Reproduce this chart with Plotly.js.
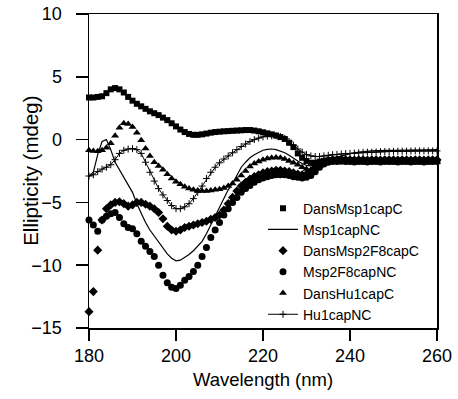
<!DOCTYPE html>
<html>
<head>
<meta charset="utf-8">
<script src="https://cdn.plot.ly/plotly-3.0.1.min.js"></script>
<style>html,body{margin:0;padding:0;background:#fff;}#chart{width:458px;height:399px;}</style>
</head>
<body>
<div id="chart"></div>
<script>
const wavelength = [180,181,182,183,184,185,186,187,188,189,190,191,192,193,194,195,196,197,198,199,200,201,202,203,204,205,206,207,208,209,210,211,212,213,214,215,216,217,218,219,220,221,222,223,224,225,226,227,228,229,230,231,232,233,234,235,236,237,238,239,240,241,242,243,244,245,246,247,248,249,250,251,252,253,254,255,256,257,258,259,260];

const dansMsp1capC = [3.35,3.35,3.4,3.45,3.7,4.0,4.1,4.0,3.75,3.4,3.1,2.85,2.65,2.45,2.25,2.1,1.95,1.75,1.55,1.3,1.05,0.8,0.6,0.45,0.38,0.38,0.42,0.48,0.55,0.6,0.63,0.66,0.68,0.7,0.72,0.74,0.76,0.76,0.72,0.66,0.58,0.5,0.42,0.32,0.2,0.05,-0.25,-0.6,-1.1,-1.45,-1.7,-1.85,-1.85,-1.75,-1.7,-1.65,-1.65,-1.6,-1.6,-1.62,-1.65,-1.65,-1.7,-1.68,-1.65,-1.68,-1.7,-1.7,-1.68,-1.7,-1.72,-1.7,-1.7,-1.72,-1.7,-1.7,-1.72,-1.7,-1.7,-1.72,-1.7];

const msp1capNC = [-2.9,-2.6,-1.2,-0.15,0.0,-0.8,-1.8,-2.4,-2.9,-3.5,-4.2,-5.1,-5.9,-6.6,-7.2,-7.7,-8.2,-8.7,-9.1,-9.45,-9.65,-9.6,-9.4,-9.15,-8.85,-8.5,-8.1,-7.5,-6.8,-6.0,-5.3,-4.6,-4.0,-3.5,-2.8,-2.2,-1.8,-1.45,-1.2,-1.0,-0.85,-0.78,-0.75,-0.8,-0.9,-1.05,-1.25,-1.5,-1.7,-1.9,-2.05,-2.1,-2.05,-1.9,-1.75,-1.6,-1.5,-1.4,-1.3,-1.2,-1.1,-1.05,-1.0,-0.95,-0.92,-0.9,-0.88,-0.85,-0.85,-0.85,-0.85,-0.85,-0.85,-0.85,-0.85,-0.85,-0.85,-0.82,-0.82,-0.8,-0.8];

const dansMsp2F8capC = [-13.7,-12.1,-8.8,-6.4,-5.5,-5.2,-5.0,-4.95,-5.1,-5.3,-5.2,-5.0,-5.0,-5.15,-5.3,-5.5,-5.8,-6.3,-6.9,-7.2,-7.3,-7.2,-7.0,-6.9,-6.8,-6.7,-6.6,-6.5,-6.35,-6.2,-6.0,-5.6,-5.1,-4.6,-4.1,-3.7,-3.4,-3.15,-2.95,-2.8,-2.65,-2.55,-2.5,-2.45,-2.45,-2.5,-2.55,-2.65,-2.75,-2.8,-2.75,-2.55,-2.25,-1.95,-1.75,-1.65,-1.6,-1.6,-1.58,-1.6,-1.6,-1.62,-1.6,-1.6,-1.62,-1.6,-1.6,-1.62,-1.6,-1.6,-1.6,-1.62,-1.6,-1.6,-1.62,-1.6,-1.6,-1.62,-1.6,-1.6,-1.6];

const msp2F8capNC = [-6.4,-6.8,-7.3,-6.4,-6.1,-5.9,-5.8,-6.2,-6.7,-7.0,-7.1,-7.5,-8.1,-8.5,-8.9,-9.3,-10.0,-10.8,-11.4,-11.75,-11.85,-11.6,-11.2,-10.9,-10.5,-10.0,-9.3,-8.6,-7.8,-7.2,-6.6,-6.0,-5.5,-5.0,-4.6,-4.2,-3.9,-3.65,-3.4,-3.2,-3.05,-2.95,-2.85,-2.8,-2.8,-2.8,-2.85,-2.95,-3.0,-3.05,-3.0,-2.85,-2.55,-2.2,-1.95,-1.8,-1.75,-1.75,-1.72,-1.75,-1.75,-1.78,-1.75,-1.75,-1.78,-1.75,-1.75,-1.78,-1.75,-1.75,-1.75,-1.78,-1.75,-1.75,-1.78,-1.75,-1.75,-1.78,-1.75,-1.75,-1.75];

const dansHu1capC = [-0.85,-0.9,-0.93,-0.85,-0.65,-0.3,0.3,0.95,1.3,1.25,1.0,0.55,-0.05,-0.7,-1.3,-1.8,-2.1,-2.4,-2.75,-3.1,-3.35,-3.55,-3.75,-3.9,-4.0,-4.05,-4.1,-4.1,-4.05,-4.0,-3.95,-3.85,-3.7,-3.5,-3.2,-2.85,-2.5,-2.15,-1.9,-1.75,-1.6,-1.5,-1.45,-1.42,-1.45,-1.55,-1.7,-1.85,-2.0,-2.2,-2.35,-2.4,-2.3,-2.1,-1.9,-1.8,-1.75,-1.78,-1.8,-1.8,-1.82,-1.8,-1.8,-1.82,-1.8,-1.8,-1.82,-1.8,-1.8,-1.82,-1.8,-1.8,-1.82,-1.8,-1.8,-1.82,-1.8,-1.8,-1.82,-1.8,-1.8];

const hu1capNC = [-2.9,-2.8,-2.55,-2.35,-2.2,-2.0,-1.6,-1.1,-0.85,-0.75,-0.72,-0.8,-1.1,-1.8,-2.6,-3.3,-3.9,-4.4,-4.85,-5.25,-5.5,-5.5,-5.35,-5.1,-4.7,-4.2,-3.7,-3.1,-2.6,-2.2,-1.85,-1.55,-1.3,-1.05,-0.8,-0.55,-0.35,-0.15,0.0,0.12,0.22,0.28,0.3,0.3,0.25,0.1,-0.15,-0.45,-0.75,-1.0,-1.2,-1.3,-1.35,-1.35,-1.3,-1.25,-1.2,-1.18,-1.15,-1.12,-1.1,-1.08,-1.05,-1.02,-1.0,-1.0,-0.98,-0.96,-0.95,-0.95,-0.94,-0.93,-0.92,-0.92,-0.91,-0.9,-0.9,-0.9,-0.9,-0.9,-0.9];

const seriesNames = ["DansMsp1capC","Msp1capNC","DansMsp2F8capC","Msp2F8capNC","DansHu1capC","Hu1capNC"];
const xTicks = [180,200,220,240,260];
const yTicks = [-15,-10,-5,0,5,10];
const xTitle = 'Wavelength (nm)';
const yTitle = 'Ellipticity (mdeg)';

const FONT = 'Arial, "Liberation Sans", sans-serif';

const traces = [
  {x: wavelength, y: dansMsp1capC, name: seriesNames[0], mode: 'markers', cliponaxis: false,
   marker: {symbol: 'square', size: 6, color: '#000'}},
  {x: wavelength, y: msp1capNC, name: seriesNames[1], mode: 'lines', cliponaxis: false,
   line: {color: '#000', width: 1.2}},
  {x: wavelength, y: dansMsp2F8capC, name: seriesNames[2], mode: 'markers', cliponaxis: false,
   marker: {symbol: 'diamond', size: 7, color: '#000'}},
  {x: wavelength, y: msp2F8capNC, name: seriesNames[3], mode: 'markers', cliponaxis: false,
   marker: {symbol: 'circle', size: 7, color: '#000'}},
  {x: wavelength, y: dansHu1capC, name: seriesNames[4], mode: 'markers', cliponaxis: false,
   marker: {symbol: 'triangle-up', size: 7, color: '#000'}},
  {x: wavelength, y: hu1capNC, name: seriesNames[5], mode: 'lines+markers', cliponaxis: false,
   line: {color: '#000', width: 1}, marker: {symbol: 'cross-thin', size: 5, color: '#000', line: {color: '#000', width: 1}}}
];

const layout = {
  width: 458, height: 399,
  margin: {l: 89, r: 21, t: 14, b: 71, pad: 0},
  paper_bgcolor: '#fff', plot_bgcolor: '#fff',
  font: {family: FONT, color: '#000'},
  showlegend: true,
  legend: {x: 0.5, y: 0.431, xanchor: 'left', yanchor: 'top', bgcolor: 'rgba(0,0,0,0)',
           font: {family: FONT, size: 14, color: '#000'}, tracegroupgap: 0},
  xaxis: {
    range: [180, 260], tickvals: xTicks, ticks: 'outside', ticklen: 11, tickwidth: 1.5, tickcolor: '#000',
    showline: true, linewidth: 1.5, linecolor: '#000', mirror: true, showgrid: false, zeroline: false,
    tickfont: {family: FONT, size: 18, color: '#000'}, automargin: false,
    title: {text: xTitle, font: {family: FONT, size: 18.5, color: '#000'}, standoff: 8}
  },
  yaxis: {
    range: [-15, 10], tickvals: yTicks, ticks: 'outside', ticklen: 12, tickwidth: 1.5, tickcolor: '#000',
    showline: true, linewidth: 1.5, linecolor: '#000', mirror: true, showgrid: false, zeroline: false,
    tickfont: {family: FONT, size: 18, color: '#000'}, automargin: false, ticklabelstandoff: 10,
    title: {text: ''}
  },
  annotations: [{
    text: yTitle, xref: 'paper', yref: 'paper', x: -0.17, y: 0.5, xanchor: 'center', yanchor: 'middle',
    textangle: -90, showarrow: false, font: {family: FONT, size: 20.5, color: '#000'}
  }]
};

Plotly.newPlot('chart', traces, layout, {staticPlot: true, displayModeBar: false});
</script>
</body>
</html>
